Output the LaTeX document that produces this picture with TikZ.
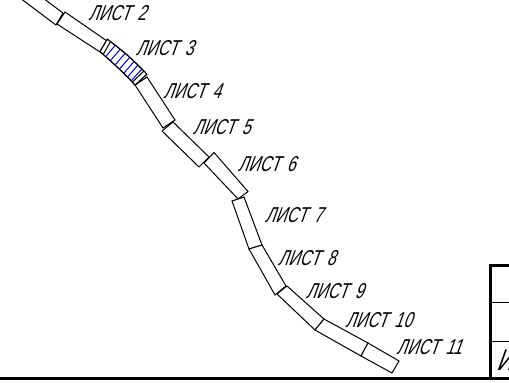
\documentclass[tikz,border=0pt]{standalone}
\usepackage{fontspec}
\newfontfamily\cad[FakeSlant=0.36,FakeStretch=0.72,LetterSpace=1,WordSpace=1.5]{Liberation Sans}
\tikzset{
  sheet/.style={draw=black,line width=1pt,fill=white,line join=miter},
  hatch/.style={draw=blue!90!black,line width=1pt},
  lbl/.style={inner sep=0pt,font=\cad\fontsize{21.5}{21.5}\selectfont,text=black},
  heavy/.style={draw=black,line width=3pt},
  thin rule/.style={draw=black,line width=0.9pt}
}
\begin{document}
\begin{tikzpicture}[x=1pt,y=-1pt]
\useasboundingbox (0,0) rectangle (509,383);
\begin{scope}
\clip (0,0) rectangle (509,383);
% sheets
\draw[sheet] (20,-2) -- (56,25) -- (63,13) -- (43,-2);
\draw[sheet] (65,12) -- (57,24) -- (100,52) -- (107,41) -- cycle;
\draw[sheet] (147,77) -- (135,85) -- (163,128) -- (175,120) -- cycle;
\draw[sheet] (173,122) -- (162,131) -- (199,167) -- (209,157) -- cycle;
\draw[sheet] (214,152.5) -- (204,163) -- (238,199) -- (248,191.5) -- cycle;
\draw[sheet] (232,201) -- (244,197) -- (262,245) -- (249,249) -- cycle;
\draw[sheet] (249,249) -- (262,245) -- (286,286) -- (275,295) -- cycle;
\draw[sheet] (287,286) -- (277,294) -- (315,330) -- (324,319) -- cycle;
\draw[sheet] (324,319) -- (315,330) -- (361,356) -- (368,343) -- cycle;
\draw[sheet] (368,343) -- (361,356) -- (392,373) -- (399,361) -- cycle;
% hatched sheet
\draw[sheet] (107.3,39.3) .. controls (122,50) and (136,62) .. (146.7,74.3)
  -- (135,85) .. controls (124,73) and (112,62) .. (100,51.7) -- cycle;
\begin{scope}
\clip (107.3,39.3) .. controls (122,50) and (136,62) .. (146.7,74.3)
  -- (135,85) .. controls (124,73) and (112,62) .. (100,51.7) -- cycle;
\foreach \a/\b/\c/\d in {
  115/45.5/105.5/57, 120.5/49/110.5/60.5, 125.5/53/115.5/64.5, 130/57/120/68.5,
  134.5/61/124.5/72.5, 138/65/128/76.5, 142/69/131.5/80.5}
  \draw[hatch] ({\a+2},{\b-2.3}) -- ({\c-3},{\d+3.4});
\end{scope}
\draw[draw=black,line width=1pt] (107.3,39.3) .. controls (122,50) and (136,62) .. (146.7,74.3)
  -- (135,85) .. controls (124,73) and (112,62) .. (100,51.7) -- cycle;
\draw[sheet] (107.3,39.3) -- (100,51.7) -- (103.5,54) -- (110.5,41.5) -- cycle;
\draw[sheet] (146.7,74.3) -- (135,85) -- (132.5,82) -- (144,71) -- cycle;
% frame
\draw[thin rule] (490,302) -- (511,302);
\draw[thin rule] (490,341) -- (511,341);
\draw[heavy] (511,265.5) -- (490,265.5) -- (490,378);
\draw[heavy] (-2,378.5) -- (511,378.5);
% labels
\node[lbl] (l2) at (117,13) {ЛИСТ 2};
\node[lbl] (l3) at (164.5,48) {ЛИСТ 3};
\node[lbl] (l4) at (192,91) {ЛИСТ 4};
\node[lbl] (l5) at (221.5,127.5) {ЛИСТ 5};
\node[lbl] (l6) at (266.5,164) {ЛИСТ 6};
\node[lbl] (l7) at (293.5,215) {ЛИСТ 7};
\node[lbl] (l8) at (306.5,258) {ЛИСТ 8};
\node[lbl] (l9) at (334.5,291) {ЛИСТ 9};
\node[lbl] (l10) at (378.5,320) {ЛИСТ 10};
\node[lbl] (l11) at (429,347) {ЛИСТ 11};
\node[lbl,anchor=west,font=\cad\fontsize{30}{30}\selectfont] (im) at (496,360) {И};
\end{scope}
\end{tikzpicture}
\end{document}
